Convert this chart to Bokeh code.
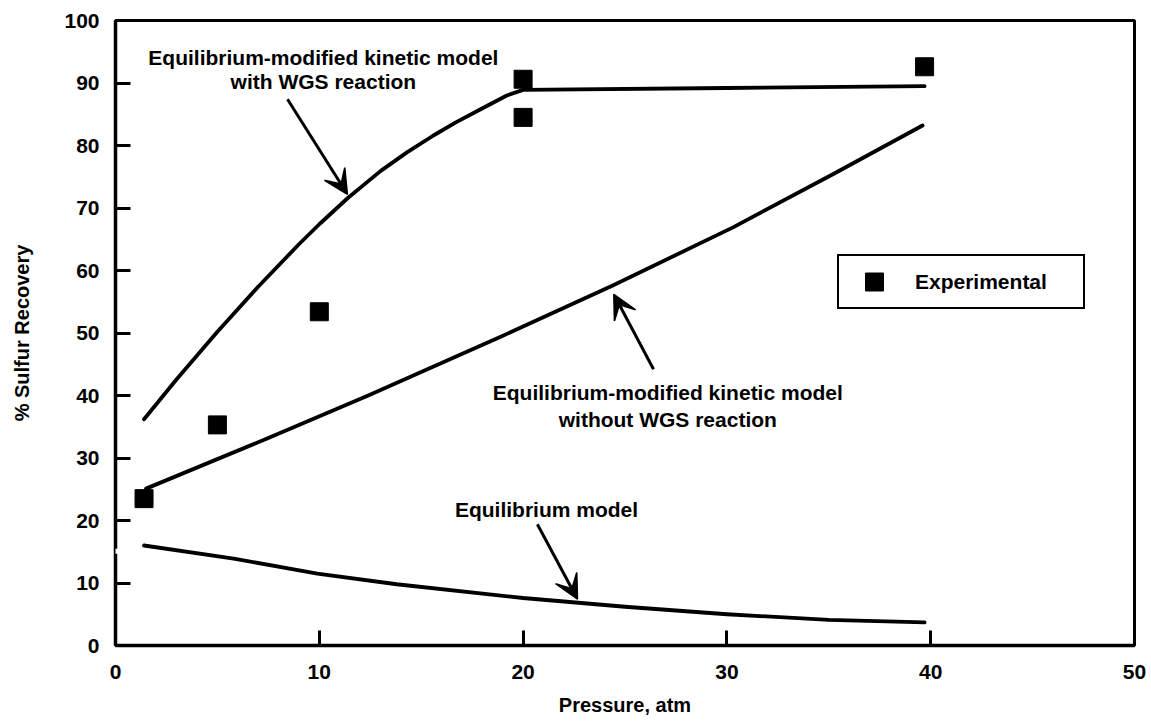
from bokeh.plotting import figure
from bokeh.models import (Label, Arrow, VeeHead, BoxAnnotation, FixedTicker,
                          Range1d, Legend, LegendItem)
from bokeh.embed import file_html
from bokeh.resources import INLINE

# Measured sulfur recovery
exp_pressure = [1.4, 5.0, 10.0, 20.0, 20.0, 39.7]
exp_recovery = [23.5, 35.3, 53.4, 90.6, 84.5, 92.6]

# Equilibrium-modified kinetic model with WGS reaction
wgs_pressure = [1.4, 3.0, 5.0, 7.0, 9.0, 10.0, 11.4, 13.0, 14.3, 15.6, 16.7, 17.8, 19.2, 20.0, 30.0, 39.7]
wgs_recovery = [36.2, 42.6, 50.2, 57.4, 64.2, 67.4, 71.6, 75.9, 78.9, 81.6, 83.7, 85.6, 88.0, 88.9, 89.2, 89.5]

# Equilibrium-modified kinetic model without WGS reaction
nowgs_pressure = [1.5, 7.5, 12.4, 18.9, 24.4, 30.3, 35.2, 39.6]
nowgs_recovery = [25.1, 33.2, 40.0, 49.4, 57.6, 66.9, 75.4, 83.2]

# Equilibrium model
eq_pressure = [1.4, 5.8, 9.9, 13.8, 20.0, 25.0, 30.0, 35.0, 39.7]
eq_recovery = [16.0, 13.9, 11.5, 9.8, 7.6, 6.2, 5.0, 4.1, 3.7]

x_ticks = [0, 10, 20, 30, 40, 50]
y_ticks = [0, 10, 20, 30, 40, 50, 60, 70, 80, 90, 100]

FONT = "Liberation Sans"

p = figure(width=1151, height=725, x_range=Range1d(0, 50), y_range=Range1d(0, 100),
           output_backend="svg", toolbar_location=None,
           min_border_left=115, min_border_right=17, min_border_top=20, min_border_bottom=80)
p.background_fill_color = "white"
p.border_fill_color = "white"
p.grid.visible = False
p.outline_line_color = "black"
p.outline_line_alpha = 1.0
p.outline_line_width = 3

for ax in (p.xaxis[0], p.yaxis[0]):
    ax.axis_line_color = "black"
    ax.axis_line_width = 3.5
    ax.major_tick_in = 15
    ax.major_tick_out = 0
    ax.major_tick_line_color = "black"
    ax.major_tick_line_width = 3
    ax.minor_tick_line_color = None
    ax.major_label_text_color = "black"
    ax.major_label_text_font = FONT
    ax.major_label_text_font_style = "bold"
    ax.major_label_text_font_size = "21px"
    ax.axis_label_text_color = "black"
    ax.axis_label_text_font = FONT
    ax.axis_label_text_font_style = "bold"
    ax.axis_label_text_font_size = "20px"

p.xaxis.ticker = FixedTicker(ticks=x_ticks)
p.yaxis.ticker = FixedTicker(ticks=y_ticks)
p.xaxis.major_label_standoff = 19
p.yaxis.major_label_standoff = 16
p.xaxis.axis_label = "Pressure, atm"
p.yaxis.axis_label = "% Sulfur Recovery"
p.xaxis.axis_label_standoff = 12
p.yaxis.axis_label_standoff = 28

# model curves
for xs, ys in ((wgs_pressure, wgs_recovery), (nowgs_pressure, nowgs_recovery),
               (eq_pressure, eq_recovery)):
    p.line(xs, ys, line_color="black", line_width=3.8, line_join="round", line_cap="round")

pts = p.scatter(exp_pressure, exp_recovery, marker="square", size=18,
                fill_color="black", line_color="black")

# break in the y axis
p.add_layout(BoxAnnotation(left=-0.5, right=0.5, bottom=14.7, top=15.5,
                           fill_color="white", fill_alpha=1.0, line_color=None,
                           level="overlay"))

# callouts
def text_line(x, y, s):
    p.add_layout(Label(x=x, y=y, text=s, text_align="center", text_baseline="middle",
                       text_font=FONT, text_font_style="bold", text_font_size="21px",
                       text_color="black"))

text_line(10.2, 94.1, "Equilibrium-modified kinetic model")
text_line(10.2, 90.2, "with WGS reaction")
text_line(27.1, 40.5, "Equilibrium-modified kinetic model")
text_line(27.1, 36.2, "without WGS reaction")
text_line(21.15, 21.8, "Equilibrium model")

def pointer(x0, y0, x1, y1):
    p.add_layout(Arrow(end=VeeHead(size=24, fill_color="black", line_color="black",
                                   line_width=1.5),
                       x_start=x0, y_start=y0, x_end=x1, y_end=y1,
                       line_color="black", line_width=3))

pointer(8.44, 87.4, 11.38, 72.2)
pointer(26.4, 44.2, 24.45, 56.2)
pointer(20.7, 19.4, 22.67, 7.4)

legend = Legend(items=[LegendItem(label="Experimental", renderers=[pts])],
                location=(722, 336), padding=3, glyph_width=64, glyph_height=45,
                label_standoff=9, label_width=165, label_height=25,
                border_line_color="black", border_line_alpha=1.0, border_line_width=2.5,
                label_text_font=FONT, label_text_font_style="bold",
                label_text_color="black",
                label_text_font_size="21px", label_text_baseline="middle",
                background_fill_alpha=1.0, margin=0)
p.add_layout(legend)

open("out.html", "w").write(file_html(p, INLINE))
